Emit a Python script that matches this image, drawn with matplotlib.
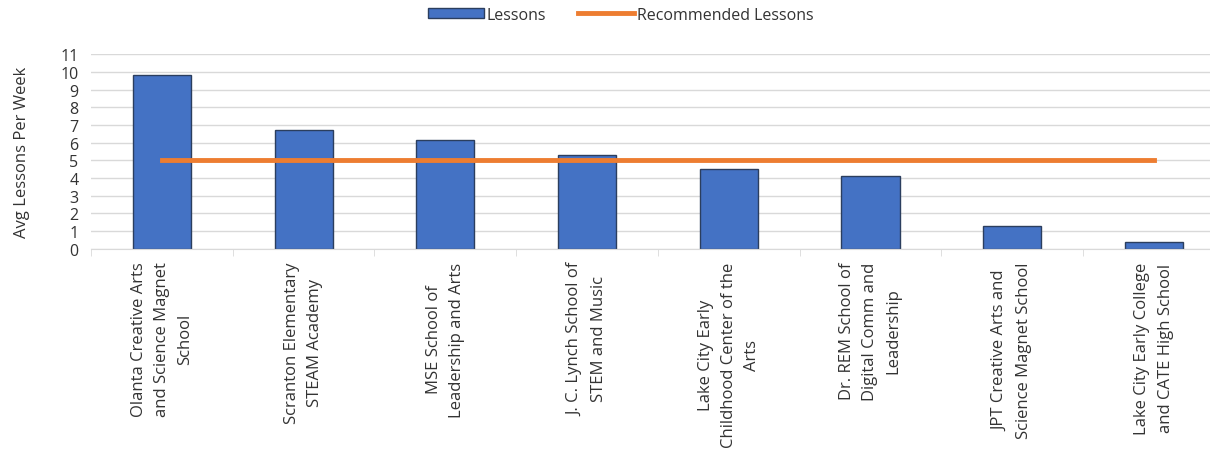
import numpy as np
import matplotlib.pyplot as plt
import matplotlib as mpl
from matplotlib.patches import Patch
from matplotlib.lines import Line2D

mpl.rcParams.update({
    "font.family": ["Open Sans", "DejaVu Sans"],
    "text.color": "#333333",
    "axes.labelcolor": "#333333",
    "xtick.color": "#333333",
    "ytick.color": "#333333",
})

schools = [
    "Olanta Creative Arts\nand Science Magnet\nSchool",
    "Scranton Elementary\nSTEAM Academy",
    "MSE School of\nLeadership and Arts",
    "J. C. Lynch School of\nSTEM and Music",
    "Lake City Early\nChildhood Center of the\nArts",
    "Dr. REM School of\nDigital Comm and\nLeadership",
    "JPT Creative Arts and\nScience Magnet School",
    "Lake City Early College\nand CATE High School",
]
lessons = [9.8, 6.7, 6.15, 5.3, 4.5, 4.1, 1.3, 0.4]
recommended = [5, 5, 5, 5, 5, 5, 5, 5]

fig = plt.figure(figsize=(12.1, 4.56), dpi=100)
# plot area runs slightly past the right edge, as in the cropped original
ax = fig.add_axes([0.0752, 0.452, 0.937, 0.427])

x = np.arange(len(schools))
ax.bar(x, lessons, width=0.41, color="#4472C4", edgecolor="#2B3E5E",
       linewidth=1.0, zorder=2)
ax.plot(x, recommended, color="#ED7D31", linewidth=3.5,
        solid_capstyle="projecting", zorder=3)

ax.set_xlim(-0.5, len(schools) - 0.5)
ax.set_ylim(0, 11)
ax.set_yticks(range(0, 12))
ax.tick_params(axis="y", length=0, labelsize=11.5, pad=9)
ax.yaxis.grid(True, color="#D9D9D9", linewidth=1.0, zorder=0)
ax.set_axisbelow(True)

ax.set_xticks(x)
ax.set_xticklabels(schools, rotation=90, fontsize=12, va="top",
                   ha="center", linespacing=1.6)
ax.tick_params(axis="x", length=0, pad=9)
ax.set_xticks(np.arange(len(schools) + 1) - 0.5, minor=True)
ax.tick_params(axis="x", which="minor", length=5, color="#D9D9D9")

for s in ["top", "right", "left"]:
    ax.spines[s].set_visible(False)
ax.spines["bottom"].set_color("#D9D9D9")

ax.set_ylabel("Avg Lessons Per Week", fontsize=12, labelpad=22)

handles = [
    Patch(facecolor="#4472C4", edgecolor="#2B3E5E", linewidth=1.0),
    Line2D([0], [0], color="#ED7D31", linewidth=3.5),
]
fig.legend(handles, ["Lessons", "Recommended Lessons"], loc="upper center",
           bbox_to_anchor=(0.513, 1.015), ncol=2, frameon=False,
           fontsize=11.5, handlelength=3.5, handleheight=0.6,
           columnspacing=2.0, handletextpad=0.2)

fig.savefig("out.png", dpi=100)
